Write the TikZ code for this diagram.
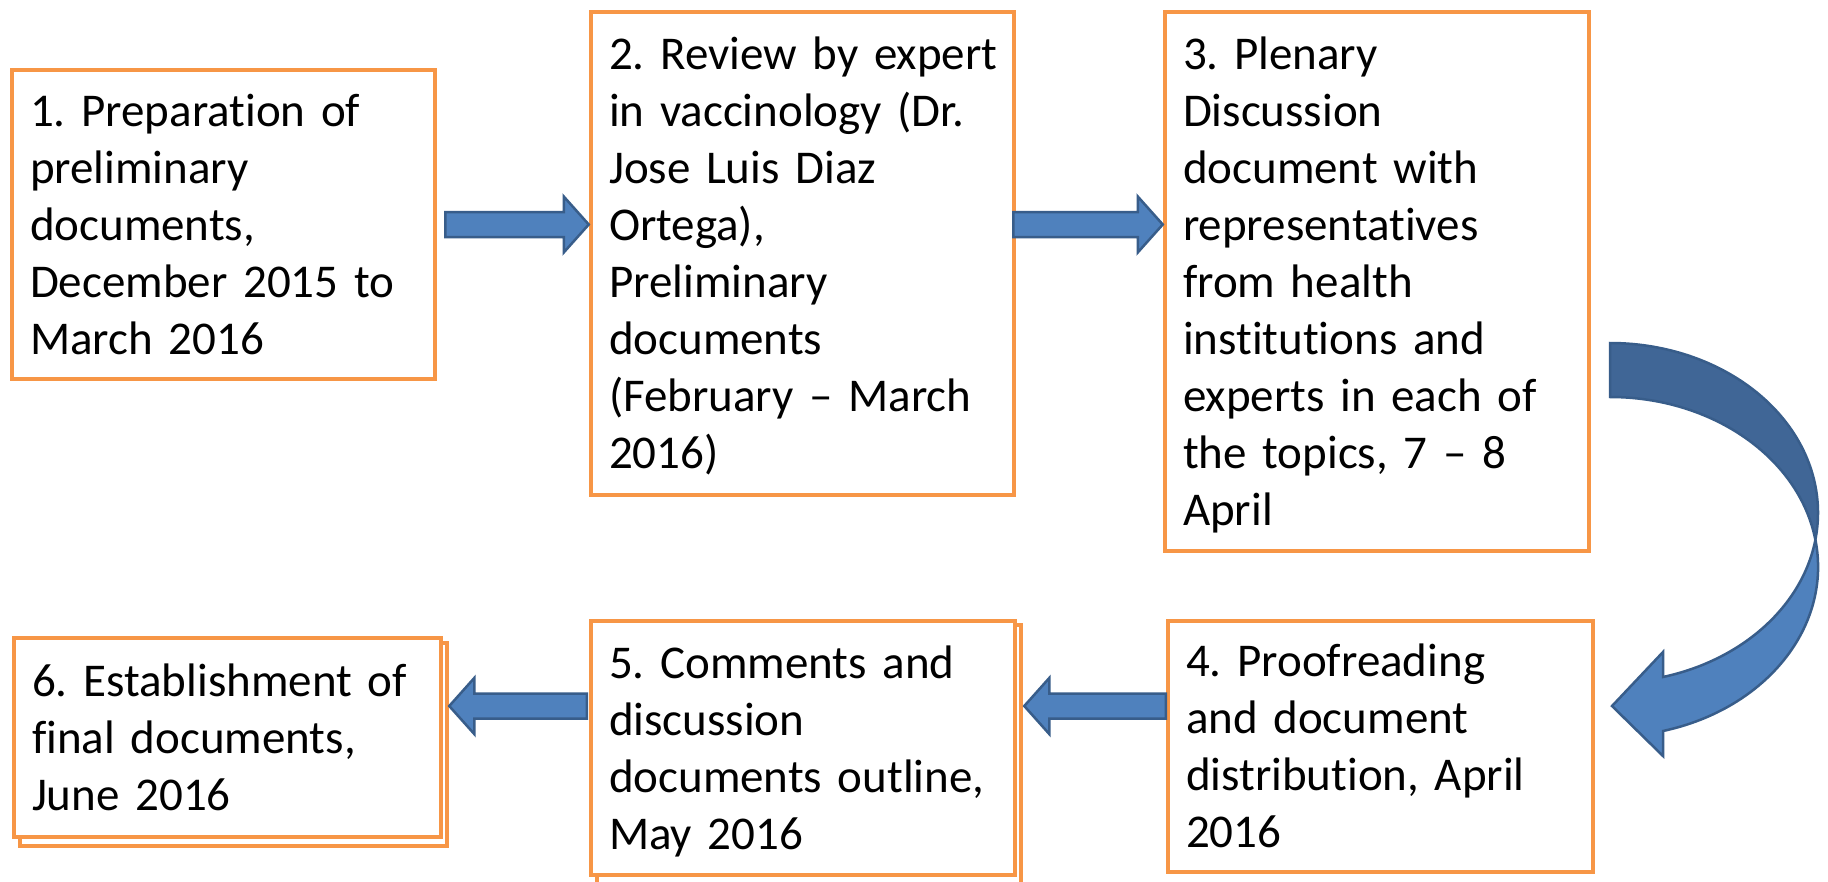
\documentclass[tikz,border=0pt]{standalone}
\usepackage{fontspec}
\setmainfont{Carlito}[Ligatures=CommonOff]
\usetikzlibrary{calc}
\definecolor{boxorange}{HTML}{F79646}
\definecolor{arrfill}{HTML}{4F81BD}
\definecolor{arrline}{HTML}{385D8A}
\definecolor{arrdark}{HTML}{406696}
\newcommand\blockarrow[3]{%
  \draw[barrow] ($(#1)+(0,12.5)$) -- ($(#2)+({-25*#3},12.5)$) -- ($(#2)+({-25*#3},28)$) -- (#2)
    -- ($(#2)+({-25*#3},-28)$) -- ($(#2)+({-25*#3},-12.5)$) -- ($(#1)+(0,-12.5)$) -- cycle;}
\newcommand\topstrut{\rule{0pt}{44pt}}
\newcommand\botstrut{\rule[-13pt]{0pt}{13pt}}
\frenchspacing
\hyphenpenalty=10000
\hbadness=10000
\hfuzz=50pt
\begin{document}
\begin{tikzpicture}[x=1pt,y=1pt,
  box/.style={draw=boxorange, line width=4.5pt, fill=white, align=left, inner xsep=18pt, inner ysep=0pt,
    font=\fontsize{47}{57}\selectfont,
    execute at begin node=\topstrut, execute at end node=\botstrut},
  backbox/.style={draw=boxorange, line width=4.5pt, fill=white},
  barrow/.style={fill=arrfill, draw=arrline, line width=2.5pt, line join=miter}]
\useasboundingbox (0,0) rectangle (1828,-881);
\fill[white] (0,0) rectangle (1828,-881);

% back copies of stacked boxes
\draw[backbox] (597,-625) rectangle (1021,-885);
\draw[backbox] (20,-643) rectangle (447,-846);

\node[box, minimum width=423pt, minimum height=309pt, text width=387pt] (b1) at (223.5,-224.5)
  {1. Preparation of\\ preliminary\\ documents,\\ December 2015 to\\ March 2016};
\node[box, minimum width=423pt, minimum height=483pt, text width=387pt] (b2) at (802.5,-253.5)
  {\mbox{2. Review by expert}\\ in vaccinology (Dr.\\ Jose Luis Diaz\\ Ortega),\\ Preliminary\\ documents\\ (February – March\\ 2016)};
\node[box, minimum width=424pt, minimum height=539pt, text width=388pt] (b3) at (1377,-281.5)
  {3. Plenary\\ Discussion\\ document with\\ representatives\\ from health\\ institutions and\\ experts in each of\\ the topics, 7 – 8\\ April};
\node[box, minimum width=425pt, minimum height=251pt, text width=389pt] (b4) at (1380.5,-746.5)
  {4. Proofreading\\ and document\\ distribution, April\\ 2016};
\node[box, minimum width=424pt, minimum height=254pt, text width=388pt] (b5) at (803,-748)
  {5. Comments and\\ discussion\\ documents outline,\\ May 2016};
\node[box, minimum width=427pt, minimum height=199pt, text width=391pt] (b6) at (227.5,-737.5)
  {6. Establishment of\\ final documents,\\ June 2016};

% straight block arrows
\coordinate (a1s) at ($(b1.east)+(8,0)$);
\coordinate (a1t) at (b2.west |- a1s);
\coordinate (a2s) at ($(b2.east |- a1s)+(-3,0)$);
\coordinate (a2t) at (b3.west |- a1s);
\coordinate (a3s) at ($(b4.west)+(0,40.5)$);
\coordinate (a3t) at ($(b5.east |- a3s)+(7,0)$);
\coordinate (a4s) at ($(b5.west |- a3s)+(-2,0)$);
\coordinate (a4t) at ($(b6.east |- a3s)+(6,0)$);
\blockarrow{a1s}{a1t}{1}
\blockarrow{a2s}{a2t}{1}
\blockarrow{a3s}{a3t}{-1}
\blockarrow{a4s}{a4t}{-1}

% curved arrow from step 3 to step 4
\draw[barrow, fill=arrdark] (1610,-343)
  arc[start angle=90, end angle=-9.15, x radius=208, y radius=169.8]
  arc[start angle=9.15, end angle=90, x radius=208, y radius=169.8] -- cycle;
\draw[barrow] (1815.4,-539.8)
  arc[start angle=9.15, end angle=-75.24, x radius=208, y radius=169.8]
  -- (1663,-756) -- (1612,-706) -- (1663,-652) -- (1663,-677)
  arc[start angle=-75.24, end angle=-9.15, x radius=208, y radius=169.8] -- cycle;
\end{tikzpicture}
\end{document}
